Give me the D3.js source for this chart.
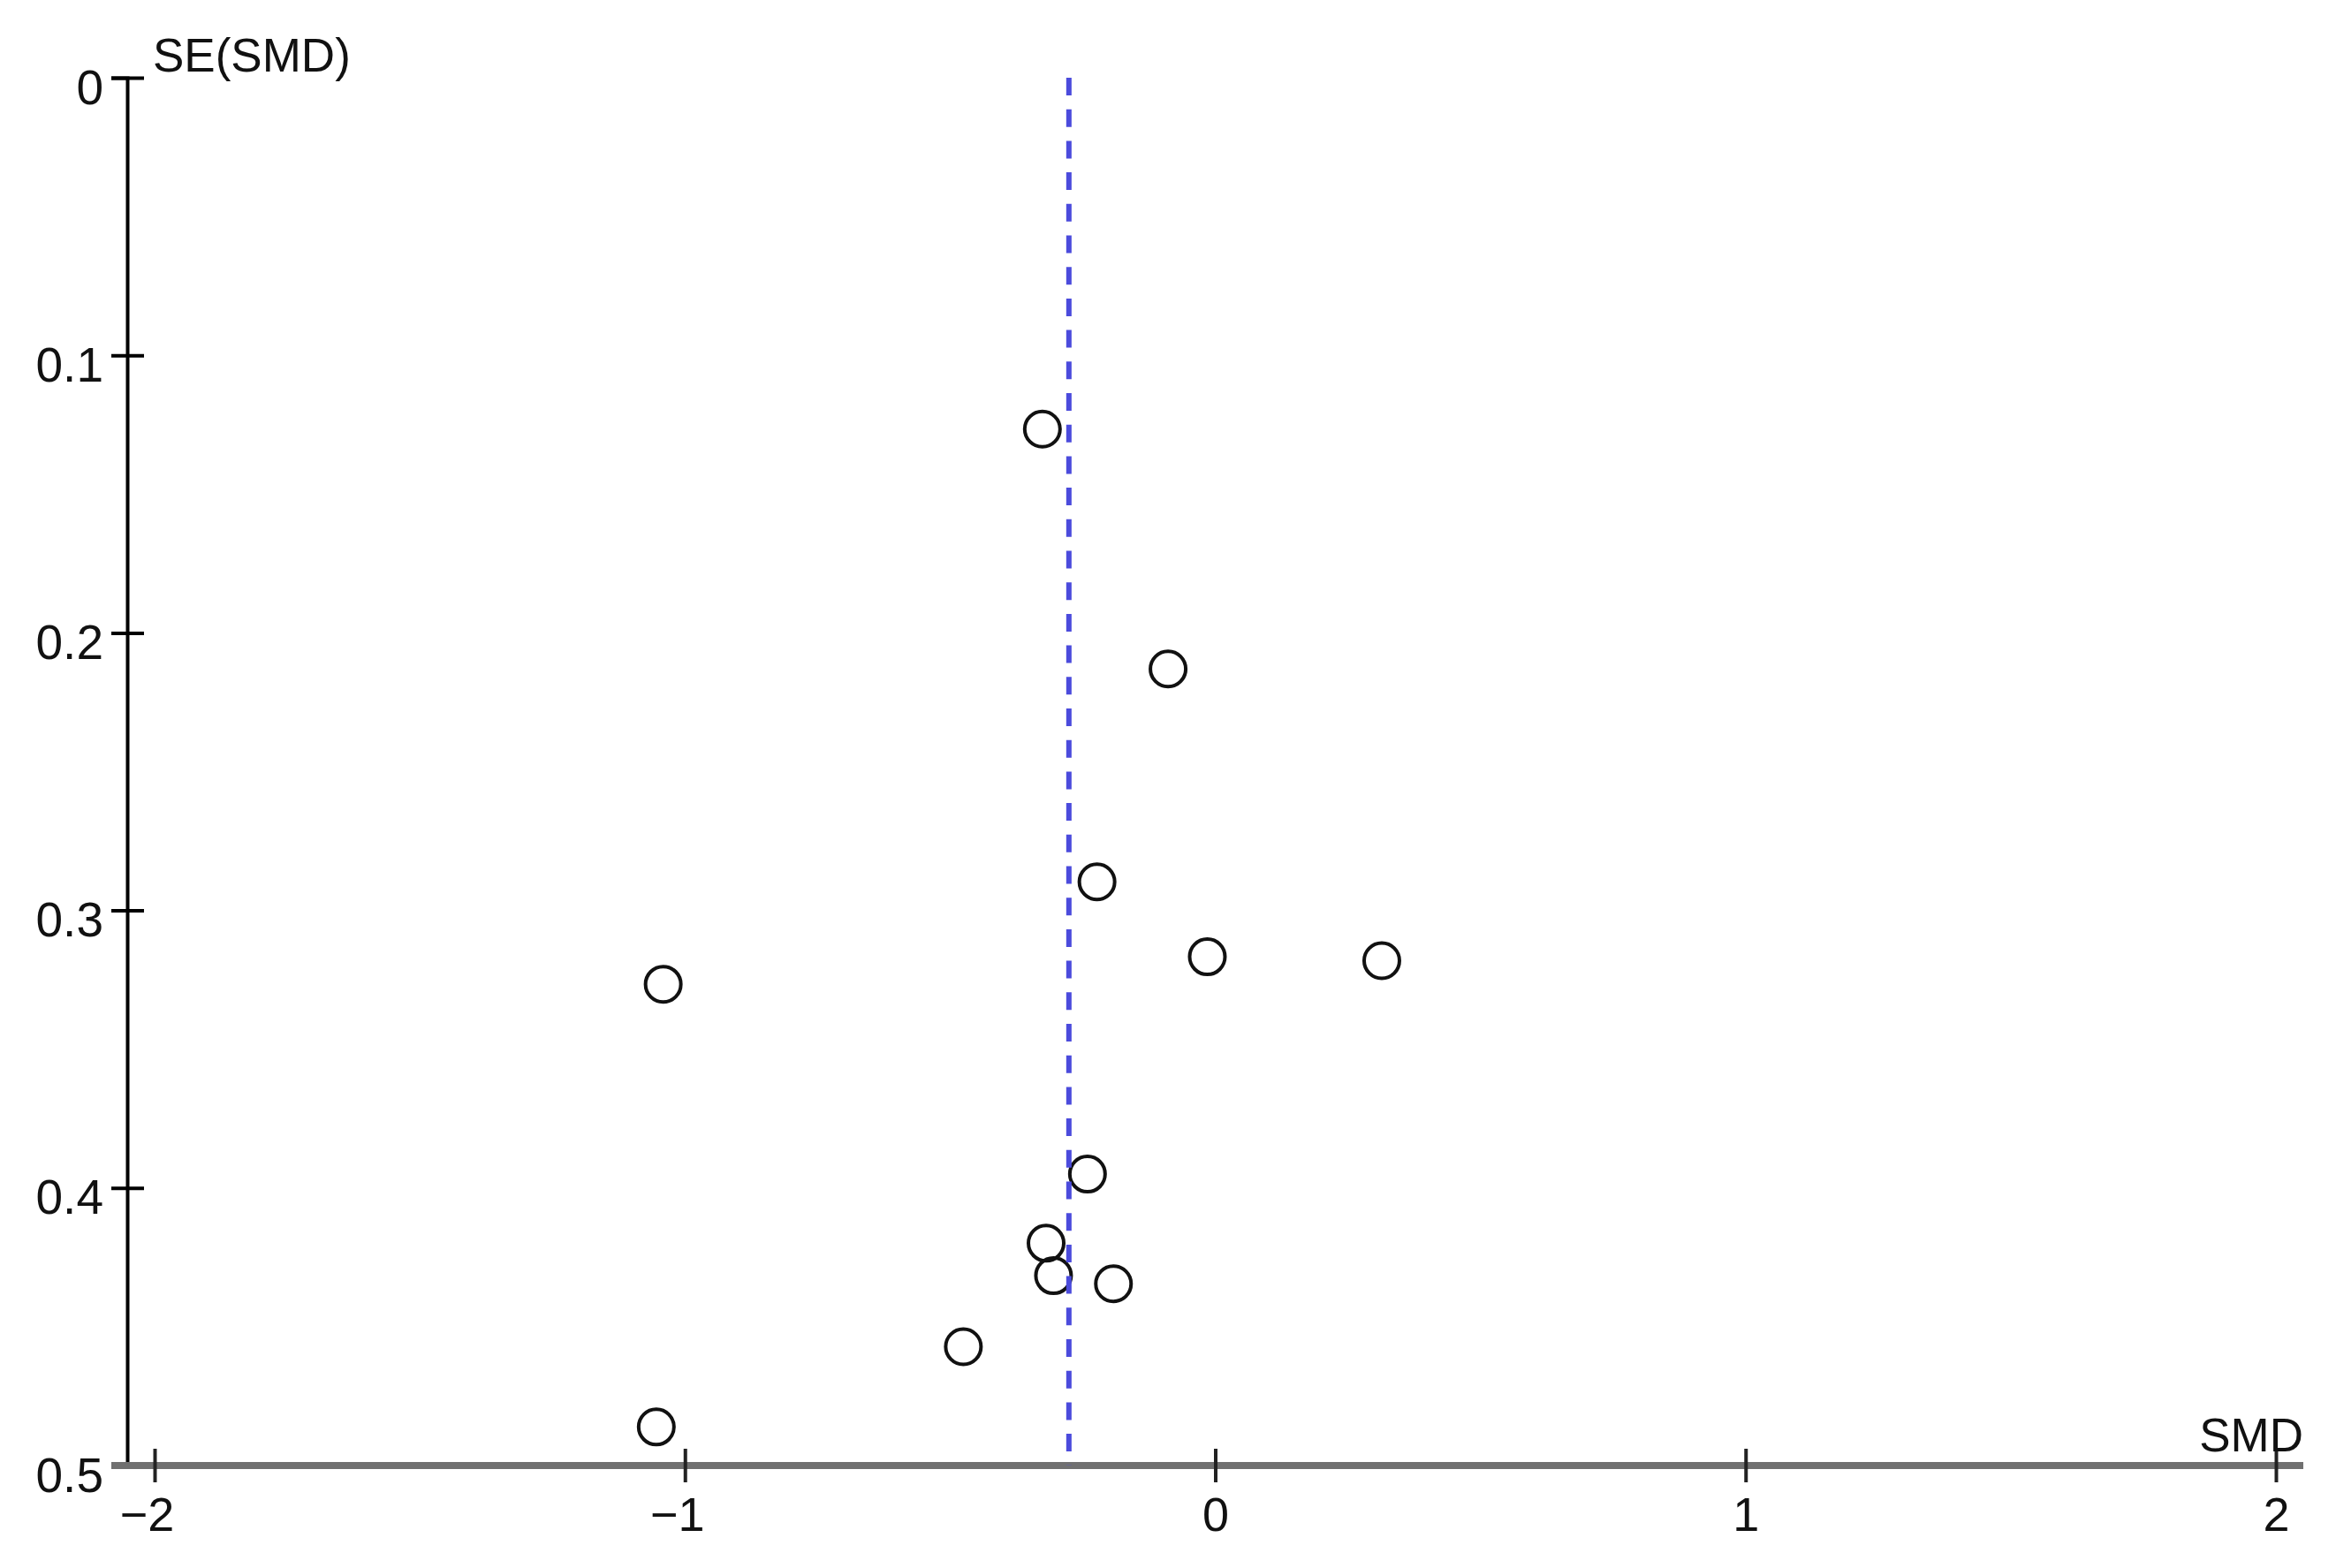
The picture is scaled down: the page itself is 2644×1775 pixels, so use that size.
<html>
<head>
	<title>Funnel plot SMD</title>
	<style>
		body { margin: 0; background: #ffffff; }
		text { font-family: "Liberation Sans", Arial, sans-serif; fill: #111; }
	</style>
	<script src="https://d3js.org/d3.v7.min.js"></script>
</head>
<body>
<svg width="2644" height="1775"></svg>
<script>

	// study effects
	var smd = [-0.326, -0.089, -0.223, -0.015, 0.314, -1.041, -0.241, -0.319, -0.305, -0.192, -0.475, -1.054];
	var se  = [0.1266, 0.2130, 0.2897, 0.3167, 0.3181, 0.3266, 0.3950, 0.4199, 0.4316, 0.4345, 0.4572, 0.4861];
	var pooled = -0.276;

	var xTicks = [-2, -1, 0, 1, 2];
	var yTicks = [0, 0.1, 0.2, 0.3, 0.4, 0.5];

	var svg = d3.select("svg");

	svg.append("rect")
		.attr("width", 2644)
		.attr("height", 1775)
		.attr("fill", "#ffffff");

	var xScale = d3.scaleLinear().domain([-2, 2]).range([175, 2576]),
		yScale = d3.scaleLinear().domain([0, 0.5]).range([88, 1659]);

	//y axis
	var yAxis = svg.append("g")
		.attr("transform", "translate(144,0)")
		.call(d3.axisLeft(yScale)
			.tickValues(yTicks)
			.tickSizeOuter(0)
			.tickSize(18)
			.tickFormat(function(d) { return d === 0 ? "0" : d3.format(".1f")(d); }));

	yAxis.attr("font-size", null).attr("font-family", null);
	yAxis.select(".domain").attr("stroke", "#000").attr("stroke-width", 4);
	yAxis.selectAll(".tick line")
		.attr("x1", 19)
		.attr("x2", -18)
		.attr("stroke", "#000")
		.attr("stroke-width", 4);
	yAxis.selectAll(".tick text")
		.attr("x", -27)
		.attr("dy", null)
		.attr("y", 29)
		.attr("fill", "#111")
		.style("font-size", "55px");

	//x axis
	var xAxis = svg.append("g")
		.attr("transform", "translate(0," + yScale(0.5) + ")")
		.call(d3.axisBottom(xScale)
			.tickValues(xTicks)
			.tickSizeOuter(0)
			.tickFormat(function(d) { return d < 0 ? "\u2212" + Math.abs(d) : d; }));

	xAxis.attr("font-size", null).attr("font-family", null);
	xAxis.select(".domain").remove();
	xAxis.insert("line", ":first-child")
		.attr("x1", 126)
		.attr("x2", 2607)
		.attr("stroke", "#707070")
		.attr("stroke-width", 8);
	xAxis.selectAll(".tick line")
		.attr("y1", -19)
		.attr("y2", 19)
		.attr("stroke", "#222")
		.attr("stroke-width", 4);
	xAxis.selectAll(".tick text")
		.attr("y", 74)
		.attr("dy", null)
		.attr("dx", function(d) { return d < 0 ? -9 : 0; })
		.attr("fill", "#111")
		.style("font-size", "54px");

	//axis titles
	svg.append("text")
		.attr("x", 173)
		.attr("y", 81)
		.style("font-size", "53px")
		.text("SE(SMD)");

	svg.append("text")
		.attr("x", 2607)
		.attr("y", 1643)
		.attr("text-anchor", "end")
		.style("font-size", "53px")
		.text("SMD");

	//studies
	svg.selectAll(".study")
		.data(smd)
		.enter().append("circle")
		.attr("class", "study")
		.attr("cx", function(d) { return xScale(d); })
		.attr("cy", function(d, i) { return yScale(se[i]); })
		.attr("r", 20)
		.attr("fill", "none")
		.attr("stroke", "#111")
		.attr("stroke-width", 4);

	//pooled estimate
	svg.append("line")
		.attr("x1", xScale(pooled))
		.attr("x2", xScale(pooled))
		.attr("y1", yScale(0))
		.attr("y2", yScale(0.5))
		.attr("stroke", "#4b4bdc")
		.attr("stroke-width", 6)
		.attr("stroke-dasharray", "20,15.7");

</script>
</body>
</html>
